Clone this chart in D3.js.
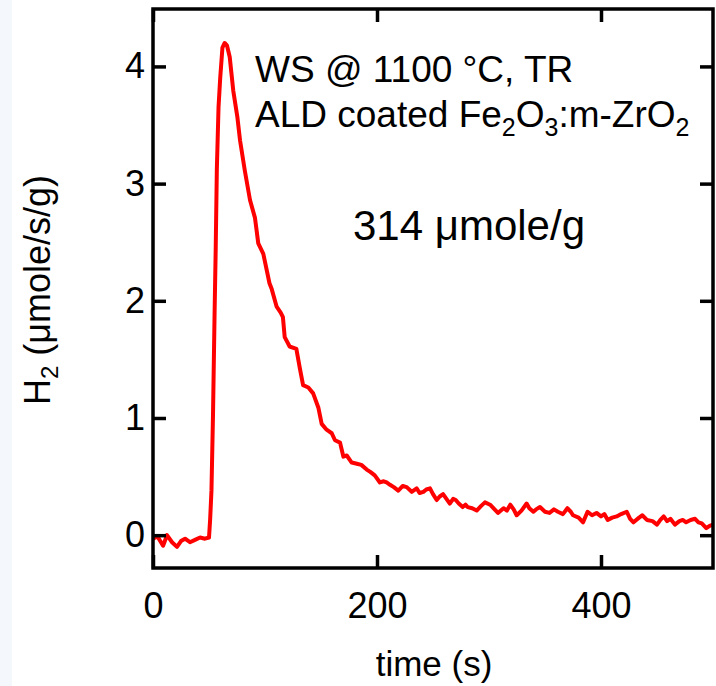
<!DOCTYPE html>
<html>
<head>
<meta charset="utf-8">
<script src="https://cdn.jsdelivr.net/npm/d3@7"></script>
<style>
  html, body { margin: 0; padding: 0; background: #ffffff; }
  svg { display: block; }
  text { font-family: "Liberation Sans", Arial, sans-serif; fill: #000; }
</style>
</head>
<body>
<svg id="chart" width="716" height="686"></svg>
<script>
// ---- data ----
const time = [0, 4, 9, 12.5, 17, 21.4, 25, 28.6, 33, 37.5, 42, 46.4, 50, 51, 52.2, 53.6, 55, 56, 57, 58.5, 60, 62, 64, 66, 68.5, 71.7, 75.3, 77.7, 82, 86.6, 91, 94, 98.5, 104, 106, 110.4, 114, 116, 117.6, 122, 128, 131, 134, 138.7, 143, 147.6, 150.6, 155, 159.6, 162.5, 167, 170, 173, 177.4, 182, 186, 190.8, 194, 198, 202.6, 206, 208.6, 211.6, 215, 219, 223, 226.5, 231, 235.4, 238, 241.4, 244, 247.3, 250, 253.3, 256, 259, 262, 265, 268, 270.3, 273, 276.5, 279, 281, 285, 289, 293, 296.4, 301, 305, 308, 313, 316, 319, 322, 324.7, 329, 333.6, 336, 339.6, 342, 345.5, 350, 354, 358, 361.5, 366, 370, 373, 375, 380, 384, 388, 392, 396, 400, 403, 406, 410, 414, 418, 423, 426, 429, 434, 437, 441, 446, 450, 453, 456, 459, 462, 466, 470, 473, 476, 480, 484, 487, 490, 494, 497, 500];
const h2 = [-0.03, -0.01, -0.09, 0.0, -0.06, -0.10, -0.05, -0.03, -0.06, -0.04, -0.02, -0.03, -0.02, 0.13, 0.38, 1.04, 1.9, 2.45, 3.12, 3.65, 3.9, 4.16, 4.2, 4.18, 4.08, 3.79, 3.57, 3.37, 3.11, 2.86, 2.71, 2.49, 2.40, 2.15, 2.10, 1.95, 1.90, 1.86, 1.69, 1.61, 1.59, 1.43, 1.28, 1.26, 1.21, 1.09, 0.95, 0.90, 0.87, 0.81, 0.79, 0.67, 0.68, 0.62, 0.61, 0.60, 0.56, 0.54, 0.51, 0.45, 0.46, 0.45, 0.43, 0.41, 0.38, 0.42, 0.41, 0.37, 0.40, 0.36, 0.37, 0.39, 0.40, 0.35, 0.30, 0.33, 0.35, 0.31, 0.27, 0.31, 0.30, 0.27, 0.24, 0.26, 0.24, 0.23, 0.21, 0.25, 0.28, 0.26, 0.22, 0.19, 0.23, 0.21, 0.26, 0.22, 0.17, 0.21, 0.27, 0.23, 0.20, 0.22, 0.24, 0.20, 0.19, 0.22, 0.20, 0.18, 0.23, 0.20, 0.17, 0.15, 0.11, 0.20, 0.17, 0.19, 0.16, 0.18, 0.13, 0.15, 0.16, 0.18, 0.20, 0.14, 0.11, 0.15, 0.17, 0.13, 0.12, 0.09, 0.13, 0.16, 0.12, 0.14, 0.09, 0.12, 0.13, 0.11, 0.13, 0.14, 0.11, 0.10, 0.06, 0.08, 0.09];
const xTicks = [0, 200, 400];
const yTicks = [0, 1, 2, 3, 4];
const xDomain = [0, 500];
const yDomain = [-0.28, 4.49];

// ---- layout ----
const svg = d3.select("#chart");
const pLeft = 153, pRight = 713, pTop = 9, pBottom = 568;
const x = d3.scaleLinear().domain(xDomain).range([pLeft, pRight]);
const y = d3.scaleLinear().domain(yDomain).range([pBottom, pTop]);

// faint slide background tint on the far left
svg.append("rect").attr("x", 0).attr("y", 0).attr("width", 12).attr("height", 686)
  .attr("fill", "#f4f7fc");

const tickLen = 13;
const axisW = 3.5;

// data line (drawn under frame)
const line = d3.line().x((d, i) => x(time[i])).y(d => y(d));
svg.append("path")
  .datum(h2)
  .attr("d", line)
  .attr("fill", "none")
  .attr("stroke", "#ff0000")
  .attr("stroke-width", 4)
  .attr("stroke-linejoin", "round");

// axes via d3 axis generators (inward ticks, mirrored)
function styleAxis(g) {
  g.selectAll(".domain").remove();
  g.selectAll(".tick line").attr("stroke", "#000").attr("stroke-width", axisW);
  g.selectAll(".tick text").attr("font-size", 36).attr("font-family", '"Liberation Sans", Arial, sans-serif').attr("fill", "#000");
}
const gB = svg.append("g").attr("transform", `translate(0,${pBottom})`)
  .call(d3.axisBottom(x).tickValues(xTicks).tickSizeInner(-tickLen).tickSizeOuter(0).tickPadding(tickLen + 11).tickFormat(d3.format("d")));
styleAxis(gB);
const gT = svg.append("g").attr("transform", `translate(0,${pTop})`)
  .call(d3.axisTop(x).tickValues(xTicks).tickSizeInner(-tickLen).tickSizeOuter(0).tickFormat(""));
styleAxis(gT);
const gL = svg.append("g").attr("transform", `translate(${pLeft},0)`)
  .call(d3.axisLeft(y).tickValues(yTicks).tickSizeInner(-tickLen).tickSizeOuter(0).tickPadding(8).tickFormat(d3.format("d")));
styleAxis(gL);
const gR = svg.append("g").attr("transform", `translate(${pRight},0)`)
  .call(d3.axisRight(y).tickValues(yTicks).tickSizeInner(-tickLen).tickSizeOuter(0).tickFormat(""));
styleAxis(gR);

// frame
svg.append("rect")
  .attr("x", pLeft).attr("y", pTop)
  .attr("width", pRight - pLeft).attr("height", pBottom - pTop)
  .attr("fill", "none").attr("stroke", "#000").attr("stroke-width", axisW);

// axis titles
svg.append("text").attr("x", 434).attr("y", 676).attr("text-anchor", "middle")
  .attr("font-size", 35).text("time (s)");

const yl = svg.append("text")
  .attr("transform", "translate(50,290) rotate(-90)")
  .attr("text-anchor", "middle").attr("font-size", 36);
yl.append("tspan").text("H");
yl.append("tspan").attr("font-size", 24).attr("dy", 8).text("2");
yl.append("tspan").attr("dy", -8).text(" (\u03bcmole/s/g)");

// annotations
svg.append("text").attr("x", 255).attr("y", 82).attr("font-size", 37)
  .text("WS @ 1100 \u00b0C, TR");
const a2 = svg.append("text").attr("x", 255).attr("y", 127).attr("font-size", 37);
a2.append("tspan").text("ALD coated Fe");
a2.append("tspan").attr("font-size", 25).attr("dy", 9).text("2");
a2.append("tspan").attr("dy", -9).text("O");
a2.append("tspan").attr("font-size", 25).attr("dy", 9).text("3");
a2.append("tspan").attr("dy", -9).text(":m-ZrO");
a2.append("tspan").attr("font-size", 25).attr("dy", 9).text("2");

svg.append("text").attr("x", 353).attr("y", 240).attr("font-size", 42)
  .text("314 \u03bcmole/g");
</script>
</body>
</html>
